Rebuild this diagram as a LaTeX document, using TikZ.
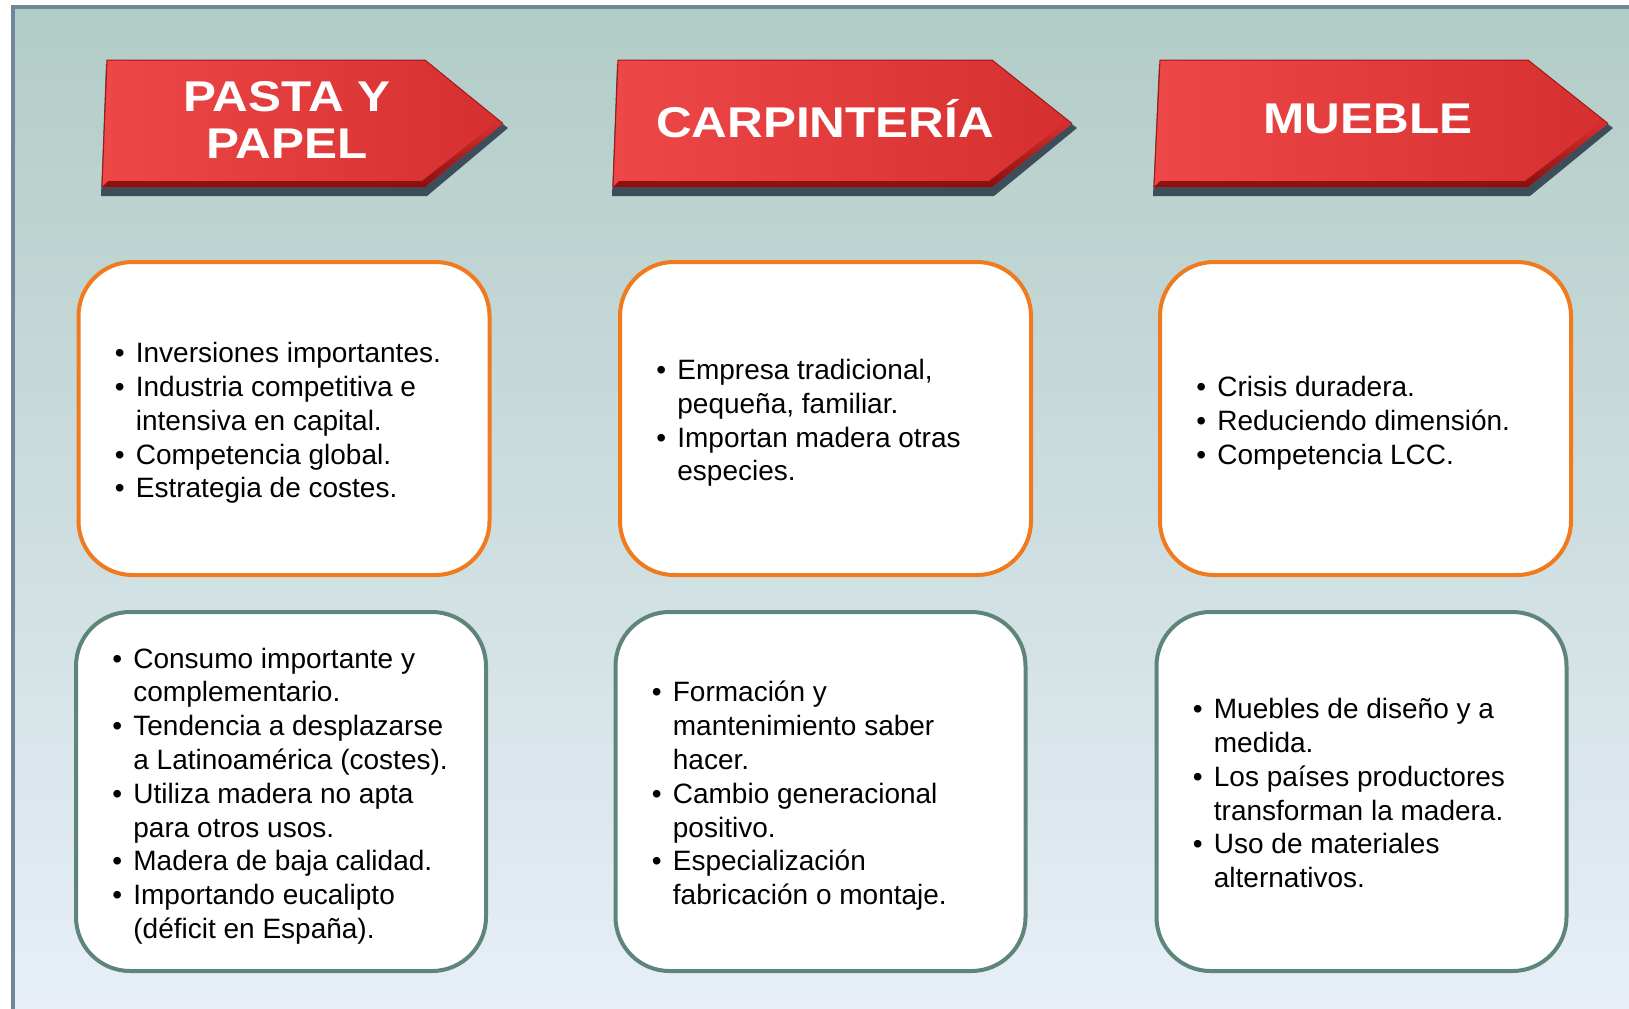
\documentclass[tikz,border=0pt]{standalone}
\usepackage{fontspec}
\setmainfont{Liberation Sans}
\newfontfamily\headfont{Liberation Sans}[FakeStretch=1.15]
\usetikzlibrary{positioning}

\definecolor{framecol}{HTML}{6F8799}
\definecolor{bgtop}{HTML}{B2CCC6}
\definecolor{bgmid}{HTML}{CCDDE6}
\definecolor{bgbot}{HTML}{E8EFF8}
\definecolor{boxorange}{HTML}{F07A1E}
\definecolor{boxgrey}{HTML}{5E857B}
\definecolor{redlight}{HTML}{EE4747}
\definecolor{reddark}{HTML}{D62F2F}
\definecolor{bevel}{HTML}{8A0E0E}
\definecolor{arrowshadow}{HTML}{3E4D5A}

\newcommand{\itm}{\makebox[10.5pt][l]{\textbullet}}
\newcommand{\lista}[1]{{\fontsize{14}{16.9}\selectfont\begin{tabular}{@{}l@{}l@{}}#1\end{tabular}}}

% #1 top-left x, #2 bottom-left x, #3 shoulder x, #4 tip x
\newcommand{\headarrow}[4]{%
  \fill[arrowshadow] (#1-1,64) -- (#3,64) -- (#4+5,128) -- (#3+2,196) -- (#2-1,196) -- cycle;
  \shade[left color=redlight, right color=reddark]
    (#1,60) -- (#3,60) -- (#4,123.5) -- (#3,187) -- (#2,187) -- cycle;
  \shade[top color=reddark, bottom color=bevel]
    (#2+6,181) -- (#3-3,181) -- (#4-8,123.5) -- (#4,123.5) -- (#3,187) -- (#2,187) -- cycle;
  \draw[bevel!70!reddark, line width=0.5pt] (#2,187) -- (#1,60) -- (#3,60) -- (#4,123.5);
}

\begin{document}
\begin{tikzpicture}[x=0.5pt,y=-0.5pt,
  head/.style={text=white,align=center,font={\headfont\bfseries\fontsize{21.5}{23.5}\selectfont}},
  top box/.style={draw=boxorange,line width=2pt,fill=white,rounded corners=27pt,
    minimum width=205.5pt,minimum height=156.5pt},
  low box/.style={draw=boxgrey,line width=2pt,fill=white,rounded corners=27pt,
    minimum width=205pt,minimum height=179.5pt},
  txt/.style={inner sep=0pt,anchor=west,yshift=-2.5pt}]

  \useasboundingbox (0,0) rectangle (1629,1008);
  \fill[white] (0,0) rectangle (1629,1008);
  \shade[top color=bgtop,middle color=bgmid,bottom color=bgbot] (13,6.5) rectangle (1640,1020);
  \draw[framecol,line width=2pt] (13,1020) -- (13,6.5) -- (1640,6.5);

  \headarrow{107}{102}{425}{503}
  \headarrow{618}{613}{992}{1072}
  \headarrow{1160}{1154}{1528}{1608}

  \node[head] (pp) at (287,120) {PASTA Y\\PAPEL};
  \node[head] (carp) at (825,119) {CARPINTERÍA};
  \node[head] (mueb) at (1368,119) {MUEBLE};

  \node[top box] (1) at (284,418.5) {};
  \node[top box] (2) at (825.5,418.5) {};
  \node[top box] (3) at (1365.5,418.5) {};
  \node[low box] (4) at (281,791.5) {};
  \node[low box] (5) at (820.5,791.5) {};
  \node[low box] (6) at (1361.5,791.5) {};

  \node[txt] (1t) [right=19pt of 1.west] {\lista{%
    \itm & Inversiones importantes.\\
    \itm & Industria competitiva e\\
         & intensiva en capital.\\
    \itm & Competencia global.\\
    \itm & Estrategia de costes.}};
  \node[txt] (2t) [right=19pt of 2.west] {\lista{%
    \itm & Empresa tradicional,\\
         & pequeña, familiar.\\
    \itm & Importan madera otras\\
         & especies.}};
  \node[txt] (3t) [right=19pt of 3.west] {\lista{%
    \itm & Crisis duradera.\\
    \itm & Reduciendo dimensión.\\
    \itm & Competencia LCC.}};
  \node[txt] (4t) [right=19pt of 4.west] {\lista{%
    \itm & Consumo importante y\\
         & complementario.\\
    \itm & Tendencia a desplazarse\\
         & a Latinoamérica (costes).\\
    \itm & Utiliza madera no apta\\
         & para otros usos.\\
    \itm & Madera de baja calidad.\\
    \itm & Importando eucalipto\\
         & (déficit en España).}};
  \node[txt] (5t) [right=19pt of 5.west] {\lista{%
    \itm & Formación y\\
         & mantenimiento saber\\
         & hacer.\\
    \itm & Cambio generacional\\
         & positivo.\\
    \itm & Especialización\\
         & fabricación o montaje.}};
  \node[txt] (6t) [right=19pt of 6.west] {\lista{%
    \itm & Muebles de diseño y a\\
         & medida.\\
    \itm & Los países productores\\
         & transforman la madera.\\
    \itm & Uso de materiales\\
         & alternativos.}};
\end{tikzpicture}
\end{document}
